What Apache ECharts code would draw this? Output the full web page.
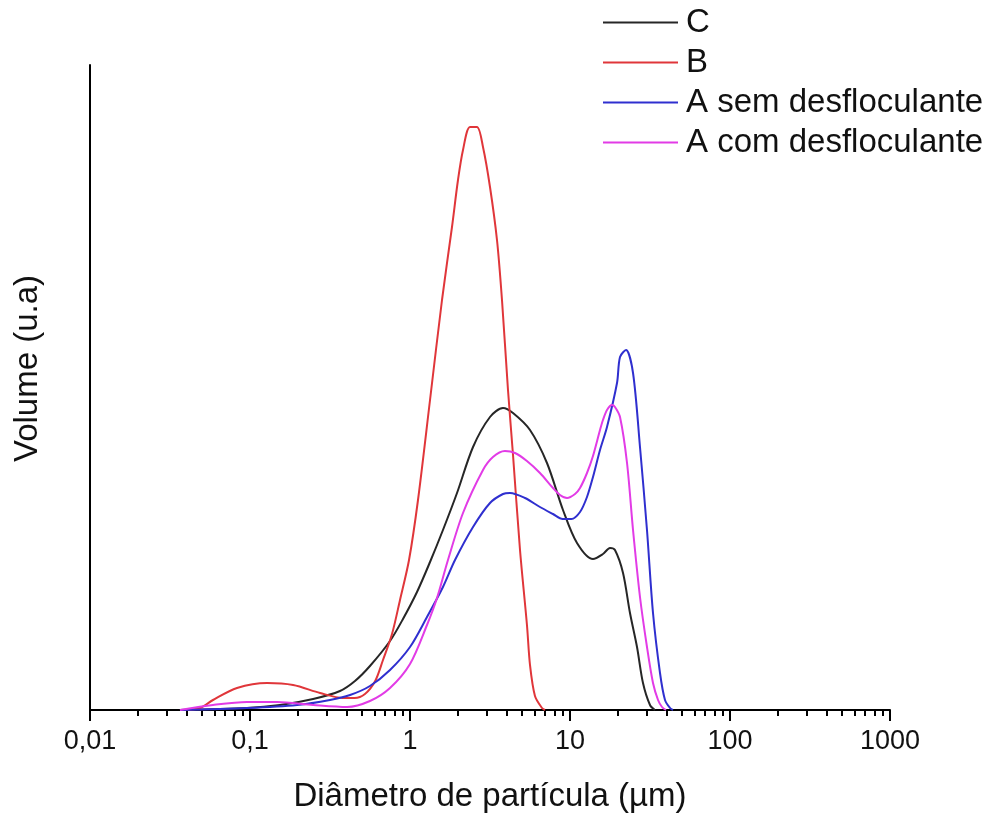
<!DOCTYPE html>
<html>
<head>
<meta charset="utf-8">
<script src="https://cdn.jsdelivr.net/npm/echarts@6/dist/echarts.min.js"></script>
<style>
html,body{margin:0;padding:0;background:#fff;}
#chart{width:995px;height:814px;}
</style>
</head>
<body>
<div id="chart"></div>
<script>
// Diameter (µm) vs volume (arbitrary units)
const seriesNames = ['C', 'B', 'A sem desfloculante', 'A com desfloculante'];
const tickValues = [0.01, 0.1, 1, 10, 100, 1000];
const tickLabels = ['0,01', '0,1', '1', '10', '100', '1000'];
const minorTickMultipliers = [2, 3, 4, 5, 6, 7, 8, 9];

const dataC = [[0.0365,0],[0.0958,2],[0.154,5],[0.248,11],[0.365,19],[0.453,29],[0.562,44],[0.75,69],[0.904,91],[1.106,118],[1.334,148],[1.607,180],[1.967,217],[2.477,263],[3.162,293],[3.813,302],[4.404,297],[5.623,280],[7.18,247],[9.04,200],[11.06,167],[13.92,151],[16.07,156],[17.78,162],[19.1,160],[21.45,137],[23.71,97],[26.23,63],[28.59,27],[31.62,5],[33.97,0]];
const dataB = [[0.0393,0],[0.0487,2],[0.0587,10],[0.0829,22],[0.128,27],[0.186,25],[0.274,17],[0.381,12],[0.45,12],[0.523,16],[0.606,29],[0.678,50],[0.772,76],[0.866,110],[0.986,150],[1.122,210],[1.334,310],[1.585,410],[1.83,483],[1.995,530],[2.144,560],[2.371,583],[2.623,583],[2.859,563],[3.162,523],[3.497,470],[3.758,410],[4.097,320],[4.404,255],[4.87,160],[5.383,85],[5.623,45],[6.04,14],[6.683,2],[6.98,0]];
const dataASem = [[0.0365,0],[0.0958,2],[0.197,5],[0.316,10],[0.422,15],[0.562,24],[0.75,40],[1.0,63],[1.277,93],[1.607,123],[1.911,150],[2.477,183],[3.162,207],[3.813,216],[4.217,217],[5.23,212],[6.49,203],[7.83,196],[9.0,191],[10.2,191],[11.55,198],[12.77,213],[13.92,233],[15.4,260],[17.03,283],[19.67,327],[20.54,353],[22.39,360],[24.77,337],[27.38,263],[30.28,180],[33.02,97],[36.52,37],[39.24,10],[42.17,2],[44.0,0]];
const dataACom = [[0.0365,0],[0.0587,5],[0.0958,8],[0.148,8],[0.248,5],[0.404,3],[0.562,9],[0.75,22],[1.0,46],[1.277,85],[1.475,112],[1.727,150],[2.144,197],[2.859,240],[3.30,253],[3.92,259],[4.53,257],[5.38,249],[6.49,237],[7.83,222],[8.66,215],[9.58,212],[10.75,216],[11.55,222],[12.77,237],[13.92,254],[15.4,280],[16.07,290],[17.03,300],[18.31,305],[19.1,303],[20.54,293],[22.72,247],[24.77,180],[27.38,113],[30.28,63],[33.02,27],[35.5,10],[37.58,3],[39.8,0]];

const colors = ['#262626', '#e0363a', '#2f2fcf', '#e23be6'];
const allData = [dataC, dataB, dataASem, dataACom];

const minorTicks = [];
for (let i = 0; i < tickValues.length - 1; i++) {
  minorTickMultipliers.forEach(m => minorTicks.push(+(tickValues[i] * m).toPrecision(6)));
}

const FONT = "'Liberation Sans', Arial, sans-serif";
const chart = echarts.init(document.getElementById('chart'), null, {renderer: 'canvas'});

const option = {
  animation: false,
  backgroundColor: '#fff',
  grid: {left: 90, right: 105, top: 65, bottom: 104, containLabel: false, outerBoundsMode: 'none'},
  legend: {
    orient: 'vertical',
    left: 603,
    top: 6,
    padding: 0,
    itemGap: 7,
    itemWidth: 75,
    itemHeight: 2,
    icon: 'rect',
    textStyle: {fontFamily: FONT, fontSize: 33, color: '#111', padding: [0, 0, 0, 3]},
    data: seriesNames
  },
  xAxis: [{
    type: 'log',
    logBase: 10,
    min: tickValues[0],
    max: tickValues[tickValues.length - 1],
    name: 'Diâmetro de partícula (µm)',
    nameLocation: 'middle',
    nameGap: 70,
    nameTextStyle: {fontFamily: FONT, fontSize: 33, color: '#111'},
    axisLine: {show: true, lineStyle: {color: '#000', width: 2}},
    axisTick: {show: true, inside: false, length: 11, lineStyle: {color: '#000', width: 2}},
    axisLabel: {
      fontFamily: FONT, fontSize: 27, color: '#111', margin: 18,
      formatter: function (v) {
        const idx = tickValues.findIndex(t => Math.abs(Math.log10(t) - Math.log10(v)) < 1e-6);
        return idx >= 0 ? tickLabels[idx] : '';
      }
    },
    splitLine: {show: false},
    minorTick: {show: false},
    minorSplitLine: {show: false}
  }, {
    type: 'log',
    logBase: 10,
    min: tickValues[0],
    max: tickValues[tickValues.length - 1],
    position: 'bottom',
    gridIndex: 0,
    axisLine: {show: false},
    axisLabel: {show: false},
    axisTick: {show: true, inside: false, length: 6, customValues: minorTicks, lineStyle: {color: '#000', width: 2}},
    splitLine: {show: false}
  }],
  yAxis: {
    type: 'value',
    min: 0,
    max: 645,
    name: 'Volume (u.a)',
    nameLocation: 'middle',
    nameGap: 46,
    nameRotate: 90,
    nameTextStyle: {fontFamily: FONT, fontSize: 33, color: '#111', padding: [0, 0, 0, 38]},
    axisLine: {show: true, lineStyle: {color: '#000', width: 2}},
    axisTick: {show: false},
    axisLabel: {show: false},
    splitLine: {show: false}
  },
  series: seriesNames.map((name, i) => ({
    name: name,
    type: 'line',
    data: allData[i],
    xAxisIndex: 0,
    showSymbol: false,
    symbol: 'none',
    smooth: 0.3,
    lineStyle: {color: colors[i], width: 2},
    itemStyle: {color: colors[i]},
    z: 3
  }))
};
chart.setOption(option);
</script>
</body>
</html>
